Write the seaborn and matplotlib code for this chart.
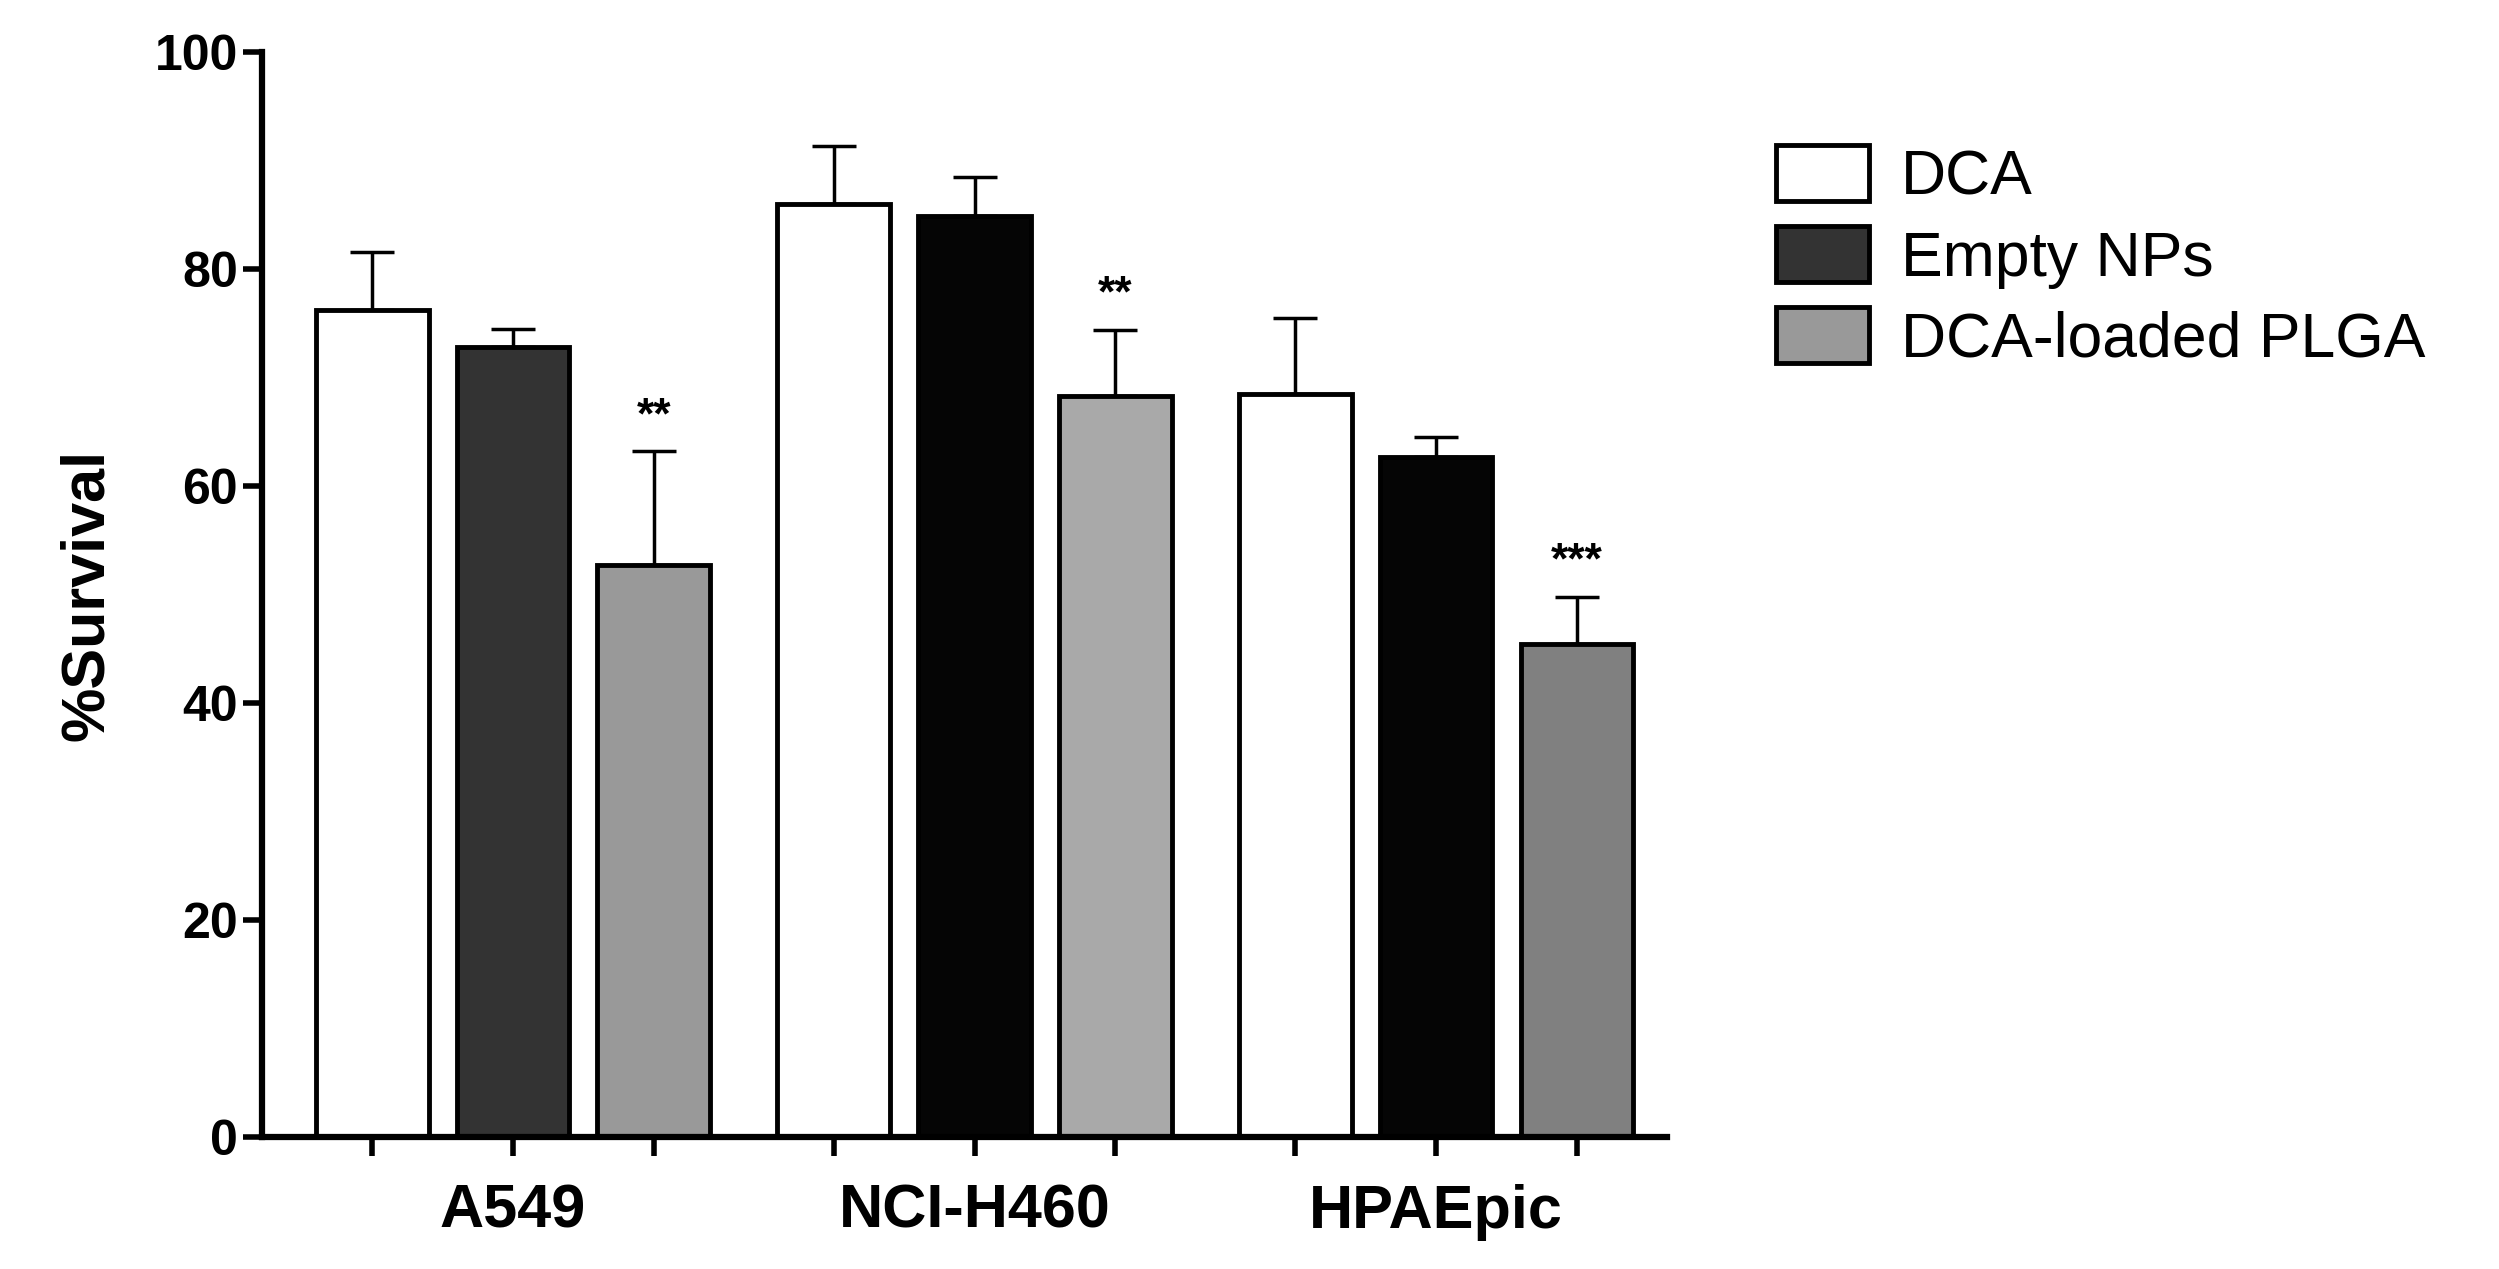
import matplotlib
matplotlib.use("Agg")
import matplotlib.pyplot as plt
import seaborn as sns
import pandas as pd
from matplotlib.patches import Patch

cells = ["A549", "NCI-H460", "HPAEpic"]
treatments = ["DCA", "Empty NPs", "DCA-loaded PLGA"]
means = {"DCA": [76.2, 86.0, 68.5],
         "Empty NPs": [72.8, 84.9, 62.7],
         "DCA-loaded PLGA": [52.7, 68.3, 45.4]}
errs = {"DCA": [5.4, 5.3, 7.0],
        "Empty NPs": [1.7, 3.6, 1.8],
        "DCA-loaded PLGA": [10.5, 6.1, 4.4]}
stars = {"DCA-loaded PLGA": ["**", "**", "***"]}
colors = {"DCA": ["#ffffff"] * 3,
          "Empty NPs": ["#333333", "#050505", "#050505"],
          "DCA-loaded PLGA": ["#999999", "#a9a9a9", "#808080"]}
legend_colors = ["#ffffff", "#333333", "#999999"]

rows = [(c, t, means[t][i]) for t in treatments for i, c in enumerate(cells)]
df = pd.DataFrame(rows, columns=["cell", "treat", "val"])

sns.set_style("ticks")
plt.rcParams['font.family'] = ['Liberation Sans', 'DejaVu Sans']
plt.rcParams['text.color'] = 'black'
plt.rcParams['axes.labelcolor'] = 'black'
plt.rcParams['xtick.color'] = 'black'
plt.rcParams['ytick.color'] = 'black'
plt.rcParams['axes.edgecolor'] = 'black'
fig = plt.figure(figsize=(24.99, 12.69), dpi=100)
ax = fig.add_axes([0.105, 0.104, 0.562, 0.855])
sns.barplot(data=df, x="cell", y="val", hue="treat", hue_order=treatments,
            order=cells, width=0.915, gap=0.2, errorbar=None,
            edgecolor="black", linewidth=3.5, legend=False, ax=ax)

xt = []
for j, t in enumerate(treatments):
    for i in range(3):
        p = ax.patches[j * 3 + i]
        p.set_facecolor(colors[t][i])
        p.set_zorder(2)
        x = p.get_x() + p.get_width() / 2
        xt.append(x)
        ax.errorbar(x, means[t][i], yerr=[[0], [errs[t][i]]], fmt="none",
                    ecolor="black", elinewidth=2.5, capsize=16, capthick=2.5, zorder=1)
        if t in stars:
            ax.text(x, means[t][i] + errs[t][i] + 1.3, stars[t][i], ha="center",
                    va="bottom", fontsize=32, fontweight="bold")

ax.set_xticks(sorted(xt))
ax.set_xticklabels([""] * len(xt))
for i, c in enumerate(cells):
    ax.text(i, -4.3, c, ha="center", va="top", fontsize=44, fontweight="bold",
            transform=ax.transData)
ax.set_xlim(-0.543, 2.50)
ax.set_ylim(0, 100)
ax.set_yticks([0, 20, 40, 60, 80, 100])
ax.tick_params(axis="both", width=4, length=14, labelsize=36, direction="out")
for lab in ax.get_yticklabels():
    lab.set_fontweight("bold")
ax.set_xlabel("")
ax.set_ylabel("%Survival", fontsize=44, fontweight="bold", labelpad=28)
sns.despine(ax=ax)
for s in ["left", "bottom"]:
    ax.spines[s].set_linewidth(4.5)

handles = [Patch(facecolor=c, edgecolor="black", linewidth=3.5) for c in legend_colors]
fig.legend(handles, treatments, loc="upper left", bbox_to_anchor=(0.688, 0.93),
           frameon=False, fontsize=45, handlelength=1.5, handleheight=1.0,
           labelspacing=0.3, handletextpad=0.5)
fig.savefig("out.png", dpi=100)
